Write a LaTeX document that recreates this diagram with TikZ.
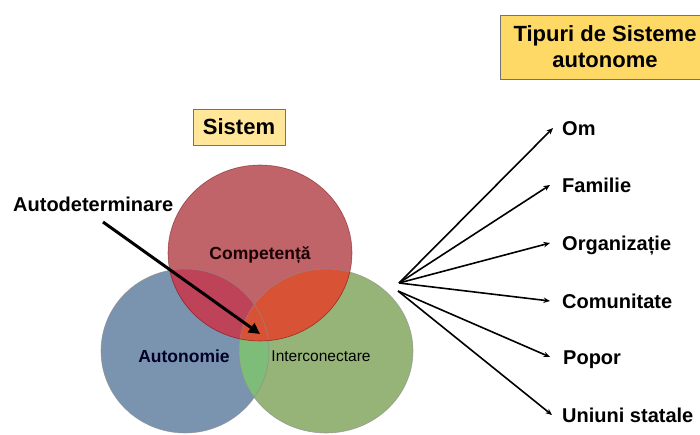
\documentclass[tikz,border=0pt]{standalone}
\usepackage{fontspec}
\setmainfont{Liberation Sans}
\usetikzlibrary{arrows.meta,positioning}
\definecolor{compred}{HTML}{C0646A}
\definecolor{autoblue}{HTML}{7A94B0}
\definecolor{intgreen}{HTML}{96B478}
\definecolor{redblue}{HTML}{BE4258}
\definecolor{redgreen}{HTML}{D85236}
\definecolor{bluegreen}{HTML}{7EBC7A}
\definecolor{boxyellow}{HTML}{FFE699}
\definecolor{boxorange}{HTML}{FFD966}

\begin{document}
\begin{tikzpicture}[x=1pt, y=-1pt,
  ybox/.style={draw=black!55, line width=0.8pt, font=\bfseries\fontsize{22}{24}\selectfont,
               align=center},
  lbl/.style={font=\bfseries\fontsize{20}{22}\selectfont, inner sep=0pt,
              text height=14.3pt, text depth=0pt, anchor=west},
  fanarrow/.style={line width=1.6pt, -{Stealth[length=6.5pt,width=5.5pt]}},
  bigarrow/.style={line width=3pt, -{Triangle[length=11pt,width=11pt]}}
]
  \useasboundingbox (0,0) rectangle (700,435);

  % circles
  \fill[autoblue] (185,351) ellipse (84 and 82);
  \fill[intgreen] (326,351) ellipse (87 and 82);
  \fill[compred] (260,253) ellipse (92 and 88);
  \begin{scope}
    \clip (185,351) ellipse (84 and 82);
    \fill[bluegreen] (326,351) ellipse (87 and 82);
  \end{scope}
  \begin{scope}
    \clip (260,253) ellipse (92 and 88);
    \fill[redblue] (185,351) ellipse (84 and 82);
    \fill[redgreen] (326,351) ellipse (87 and 82);
  \end{scope}
  \draw[black!45, line width=0.6pt, opacity=0.7] (185,351) ellipse (84 and 82);
  \draw[black!45, line width=0.6pt, opacity=0.7] (326,351) ellipse (87 and 82);
  \draw[red!40!black, line width=0.6pt, opacity=0.5] (260,253) ellipse (92 and 88);

  \node[font=\bfseries\fontsize{17.5}{19}\selectfont, text=black!90!red] (comp) at (260,255) {Competență};
  \node[font=\bfseries\fontsize{17.5}{19}\selectfont, text=black!85!blue] (auton) at (184,356) {Autonomie};
  \node[font=\fontsize{15.5}{17}\selectfont] (inter) at (321,356) {Interconectare};

  % boxes
  \node[ybox, fill=boxyellow, minimum width=92pt, minimum height=36pt] (sistem) at (239,127) {Sistem};
  \node[ybox, fill=boxorange, minimum width=210pt, minimum height=64pt, inner sep=2pt,
        font=\bfseries\fontsize{22}{26}\selectfont] (tipuri) at (605,47) {Tipuri de Sisteme\\autonome};

  % autodeterminare
  \node[lbl] (autodet) at (13,204) {Autodeterminare};
  \coordinate (adstart) at (103,222);
  \coordinate (adend) at (260,334);
  \draw[bigarrow] (adstart) -- (adend);

  % types
  \coordinate (hubA) at (399,283);
  \coordinate (hubB) at (398,291);
  \node[lbl] (om) at (562,128) {Om};
  \node[lbl] (familie) at (562,185) {Familie};
  \node[lbl] (organiz) at (562,243) {Organizație};
  \node[lbl] (comunit) at (562,301) {Comunitate};
  \node[lbl] (popor) at (563,357) {Popor};
  \node[lbl] (uniuni) at (562,415) {Uniuni statale};

  \draw[fanarrow] (hubA) -- ([xshift=-9pt]om.west);
  \draw[fanarrow] (hubA) -- ([xshift=-12pt]familie.west);
  \draw[fanarrow] (hubA) -- ([xshift=-12pt]organiz.west);
  \draw[fanarrow] (hubA) -- ([xshift=-12pt]comunit.west);
  \draw[fanarrow] (hubB) -- ([xshift=-13pt]popor.west);
  \draw[fanarrow] (hubB) -- ([xshift=-10pt]uniuni.west);
\end{tikzpicture}
\end{document}
